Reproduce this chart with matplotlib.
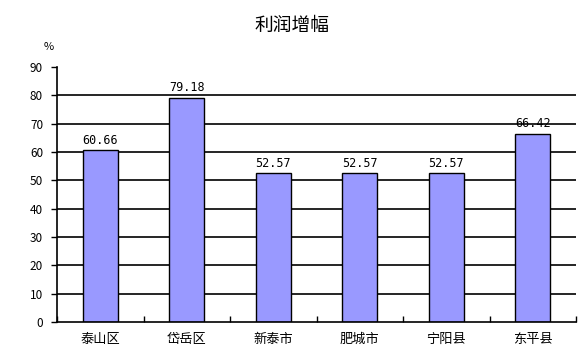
import matplotlib
matplotlib.use("Agg")
import matplotlib.pyplot as plt
import numpy as np

plt.rcParams['font.family'] = ['Noto Sans CJK SC', 'DejaVu Sans']

categories = ["泰山区", "岱岳区", "新泰市", "肥城市", "宁阳县", "东平县"]
values = [60.66, 79.18, 52.57, 52.57, 52.57, 66.42]
yticks = [0, 10, 20, 30, 40, 50, 60, 70, 80, 90]

fig = plt.figure(figsize=(5.87, 3.61), dpi=100)
ax = fig.add_axes([57/587, 39/361, (576-57)/587, (322-67)/361])

x = np.arange(len(categories))
ax.set_xlim(-0.5, len(categories) - 0.5)
ax.set_ylim(0, 90)

for yv in yticks[1:-1]:
    ax.axhline(yv, color='black', linewidth=1.2, zorder=1)

ax.bar(x, values, width=0.4, color='#9999FF', edgecolor='black', linewidth=1, zorder=2)
for xi, v in zip(x, values):
    ax.text(xi, v + 1.2, f"{v:.2f}", ha='center', va='bottom', fontsize=8.5,
            family=['DejaVu Sans Mono'], zorder=3)

ax.set_yticks(yticks)
ax.set_yticklabels([str(t) for t in yticks], fontsize=8.5)
ax.tick_params(axis='y', direction='out', length=4, width=1, pad=6)

ax.set_xticks(np.arange(-0.5, len(categories) + 0.5, 1))
ax.set_xticklabels([])
ax.set_xticks(x, minor=True)
ax.set_xticklabels(categories, minor=True, fontsize=9.5)
ax.tick_params(axis='x', which='major', direction='in', length=4, width=1)
ax.tick_params(axis='x', which='minor', length=0, pad=8)

for s in ['top', 'right']:
    ax.spines[s].set_visible(False)
for s in ['left', 'bottom']:
    ax.spines[s].set_linewidth(1.2)

fig.text(292/587, 1 - 25/361, "利润增幅", ha='center', va='center', fontsize=13.5)
fig.text(49/587, 1 - 47/361, "%", ha='center', va='center', fontsize=8)

fig.savefig("out.png", dpi=100)
